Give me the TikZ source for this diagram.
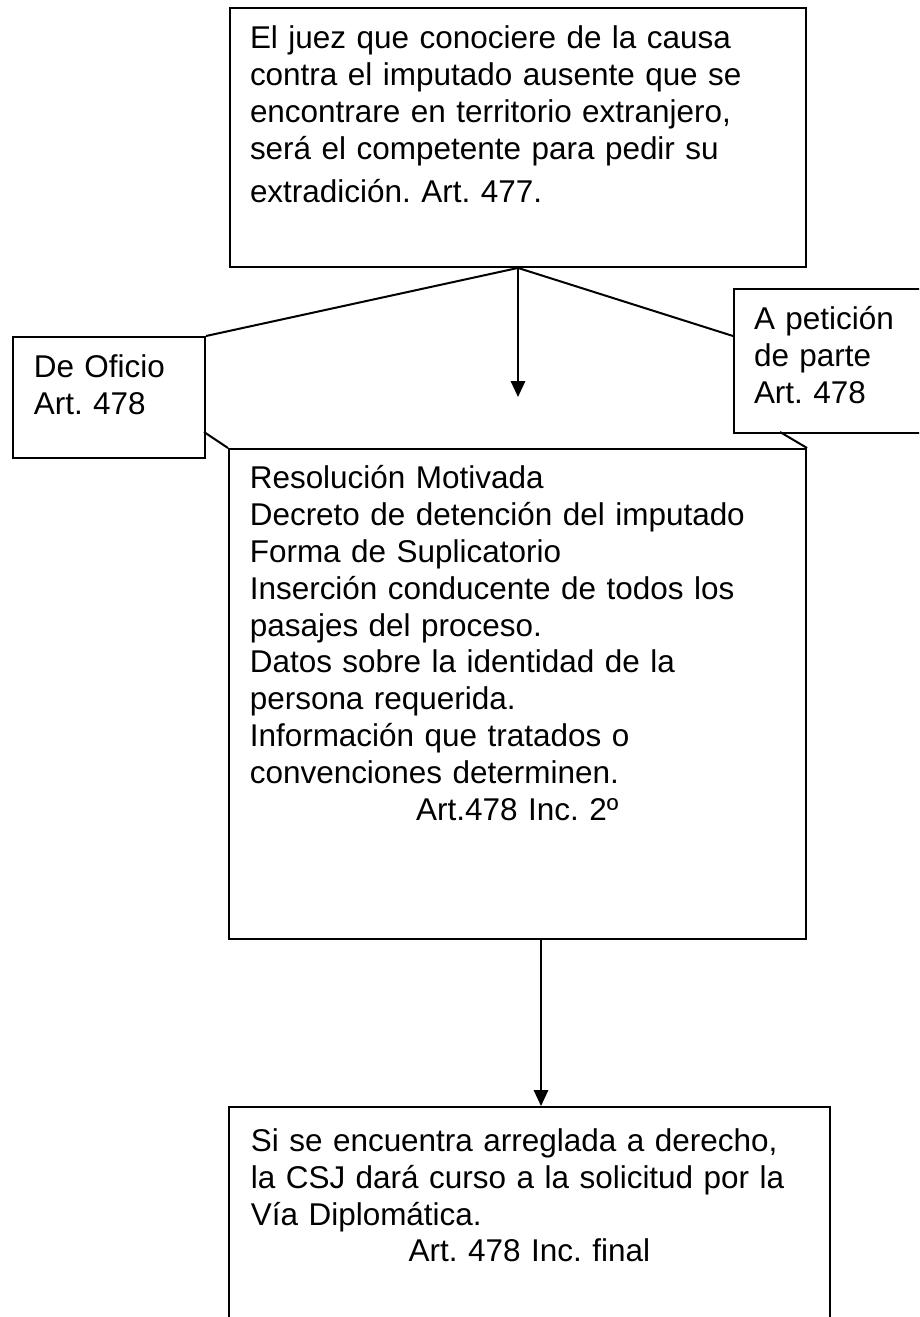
\documentclass[tikz,border=0pt]{standalone}
\usepackage{fontspec}
\setmainfont{Liberation Sans}
\usetikzlibrary{positioning,arrows.meta}

\begin{document}
\begin{tikzpicture}[x=0.375pt, y=-0.375pt, line width=0.75pt,
    caja/.style={draw, rectangle, anchor=north west, inner sep=0pt},
    texto/.style={inner sep=0pt, align=left, font=\fontsize{11.8pt}{13.8pt}\selectfont\frenchspacing},
    flecha/.style={-{Triangle[length=6pt, width=5.4pt]}}]

    \useasboundingbox (0,0) rectangle (919,1317);
    \clip (0,0) rectangle (919,1317);

    % Boxes
    \node[caja, minimum width=216pt, minimum height=97.1pt] (juez) at (229,7) {};
    \node[caja, minimum width=72pt, minimum height=45.4pt] (oficio) at (12,336) {};
    \node[caja, minimum width=75pt, minimum height=54pt] (peticion) at (733,288) {};
    \node[caja, minimum width=216.4pt, minimum height=183.75pt] (requisitos) at (228,448) {};
    \node[caja, minimum width=225.4pt, minimum height=97.5pt] (csj) at (228,1106) {};

    % Texts
    \node[texto, text width=201pt, below right=5.7pt and 7.5pt of juez.north west] (juezT)
        {\strut El juez que conociere de la causa\\
         contra el imputado ausente que se\\
         encontrare en territorio extranjero,\\
         será el competente para pedir su\\[2.2pt]
         extradición. Art. 477.};
    \node[texto, text width=57pt, below right=5.7pt and 7.8pt of oficio.north west] (oficioT)
        {\strut De Oficio\\ Art. 478};
    \node[texto, text width=60pt, below right=5.7pt and 7.5pt of peticion.north west] (peticionT)
        {\strut A petición\\ de parte\\ Art. 478};
    \node[texto, text width=200.6pt, below right=5.3pt and 7.8pt of requisitos.north west] (requisitosT)
        {\strut Resolución Motivada\\
         Decreto de detención del imputado\\
         Forma de Suplicatorio\\
         Inserción conducente de todos los\\
         pasajes del proceso.\\
         Datos sobre la identidad de la\\
         persona requerida.\\
         Información que tratados o\\
         convenciones determinen.\\
         \makebox[\hsize][c]{Art.478 Inc. 2º}};
    \node[texto, text width=208.9pt, below right=7pt and 8.2pt of csj.north west] (csjT)
        {\strut Si se encuentra arreglada a derecho,\\
         la CSJ dará curso a la solicitud por la\\
         Vía Diplomática.\\
         \makebox[\hsize][c]{Art. 478 Inc. final}};

    % Connectors
    \coordinate (punta) at (517,397);
    \coordinate (oficioDiag) at (204,432);
    \coordinate (peticionDiag) at (780,432);
    \coordinate (bajada) at (541,938);

    \draw (juez.south) -- (oficio.north east);
    \draw (juez.south) -- (peticion.west |- oficio.north);
    \draw[flecha] (juez.south) -- (juez.south |- punta);
    \draw (oficioDiag) -- (requisitos.north west);
    \draw (peticionDiag) -- (requisitos.north east);
    \draw[flecha] (bajada) -- (bajada |- csj.north);

\end{tikzpicture}
\end{document}
